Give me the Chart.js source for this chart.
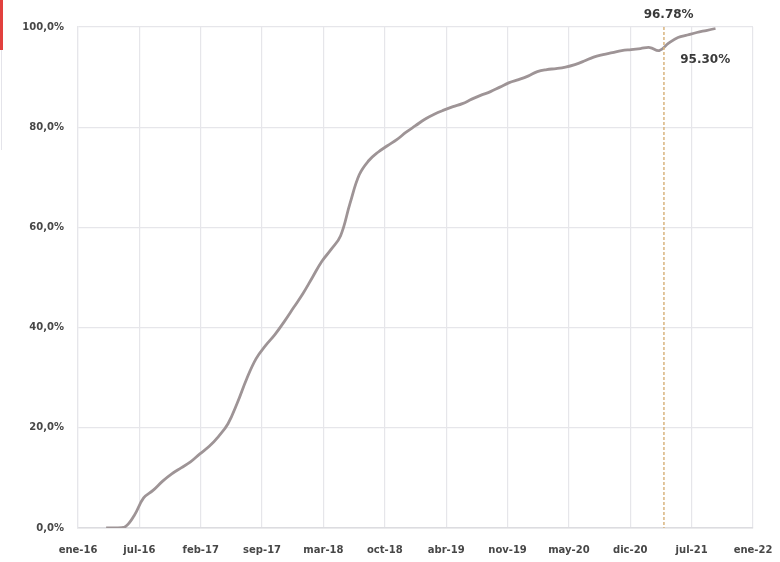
<!DOCTYPE html>
<html>
<head>
<meta charset="utf-8">
<script src="https://cdn.jsdelivr.net/npm/chart.js@4/dist/chart.umd.min.js"></script>
<style>
  html, body { margin: 0; padding: 0; background: #ffffff; }
  #wrap { position: relative; width: 780px; height: 562px; }
  #edge { position: absolute; left: 0; top: 0; width: 3px; height: 50px; background: #e2403e; }
  #edge2 { position: absolute; left: 1px; top: 50px; width: 1px; height: 100px; background: #e4e4ea; }
</style>
</head>
<body>
<div id="wrap">
  <canvas id="c" width="780" height="562"></canvas>
  <div id="edge"></div>
  <div id="edge2"></div>
</div>
<script>
// Monthly periods (year-month) and cumulative coverage in percent
const periods = [
  '2016-04','2016-05','2016-06','2016-07','2016-08','2016-09','2016-10','2016-11','2016-12',
  '2017-01','2017-02','2017-03','2017-04','2017-05','2017-06','2017-07','2017-08','2017-09','2017-10','2017-11','2017-12',
  '2018-01','2018-02','2018-03','2018-04','2018-05','2018-06','2018-07','2018-08','2018-09','2018-10','2018-11','2018-12',
  '2019-01','2019-02','2019-03','2019-04','2019-05','2019-06','2019-07','2019-08','2019-09','2019-10','2019-11','2019-12',
  '2020-01','2020-02','2020-03','2020-04','2020-05','2020-06','2020-07','2020-08','2020-09','2020-10','2020-11','2020-12',
  '2021-01','2021-02','2021-03','2021-04','2021-05','2021-06','2021-07','2021-08','2021-09'
];
const coverage = [
  0, 0, 0.2, 2.5, 6.0, 7.5, 9.3, 10.8, 12.0,
  13.2, 14.8, 16.3, 18.3, 20.8, 25.0, 29.8, 33.8, 36.4, 38.6, 41.2, 44.0,
  46.8, 50.0, 53.2, 55.6, 58.3, 64.7, 70.5, 73.3, 75.0, 76.3, 77.5, 79.0,
  80.3, 81.6, 82.6, 83.4, 84.1, 84.7, 85.6, 86.4, 87.1, 88.0, 88.9, 89.5,
  90.2, 91.1, 91.5, 91.7, 92.0, 92.5, 93.2, 94.0, 94.5, 94.9, 95.3, 95.5,
  95.7, 95.9, 95.30, 96.78, 97.9, 98.4, 98.9, 99.3, 99.7
];
// Axis labels
const xTickLabels = ['ene-16','jul-16','feb-17','sep-17','mar-18','oct-18','abr-19','nov-19','may-20','dic-20','jul-21','ene-22'];
const yTickValues = [0, 20, 40, 60, 80, 100];
// Periods whose values are printed on the chart
const labelledPeriods = ['2021-04', '2021-03'];
// Date of the dashed reference line
const markerDate = '2021-03-16';

const START_YEAR = 2016;
const SPAN_MONTHS = 72;
const FONT = '"DejaVu Sans", "Liberation Sans", Arial, sans-serif';

function monthIndex(str) {
  const [y, m, d] = str.split('-').map(Number);
  return (y - START_YEAR) * 12 + (m - 1) + (d ? (d - 1) / 30 : 0);
}

const points = periods.map((p, i) => ({ x: monthIndex(p), y: coverage[i] }));

function fmtPct(v, decimals, sep) {
  return v.toFixed(decimals).replace('.', sep) + '%';
}

const overlay = {
  id: 'overlay',
  afterDatasetsDraw(chart) {
    const { ctx, chartArea, scales } = chart;
    const xs = scales.x, ys = scales.y;
    // dashed reference line
    const mx = xs.getPixelForValue(monthIndex(markerDate));
    ctx.save();
    ctx.strokeStyle = '#d8b47e';
    ctx.lineWidth = 1.5;
    ctx.setLineDash([3, 2]);
    ctx.beginPath();
    ctx.moveTo(mx, chartArea.top);
    ctx.lineTo(mx, chartArea.bottom);
    ctx.stroke();
    ctx.restore();

    // value labels
    const offsets = { '2021-04': [0, -28], '2021-03': [46, 9] };
    ctx.save();
    ctx.font = 'bold 12px ' + FONT;
    ctx.fillStyle = '#3a3a3a';
    ctx.textAlign = 'center';
    ctx.textBaseline = 'middle';
    labelledPeriods.forEach(p => {
      const i = periods.indexOf(p);
      const px = xs.getPixelForValue(monthIndex(p));
      const py = ys.getPixelForValue(coverage[i]);
      const [dx, dy] = offsets[p];
      ctx.fillText(fmtPct(coverage[i], 2, '.'), px + dx, py + dy);
    });
    ctx.restore();
  }
};

new Chart(document.getElementById('c'), {
  type: 'line',
  data: {
    datasets: [{
      data: points,
      borderColor: 'rgb(158,148,150)',
      borderWidth: 2.8,
      pointRadius: 0,
      tension: 0.4,
      fill: false
    }]
  },
  options: {
    responsive: false,
    animation: false,
    devicePixelRatio: 1,
    layout: { padding: { left: 0, right: 27, top: 27, bottom: 0 } },
    plugins: { legend: { display: false }, tooltip: { enabled: false } },
    scales: {
      x: {
        type: 'linear',
        min: 0,
        max: SPAN_MONTHS,
        afterBuildTicks(scale) {
          scale.ticks = xTickLabels.map((_, i) => ({ value: i * SPAN_MONTHS / (xTickLabels.length - 1) }));
        },
        afterFit(scale) {
          scale.height = 34;
          scale.paddingLeft = 0;
          scale.paddingRight = 0;
        },
        ticks: {
          autoSkip: false,
          maxRotation: 0,
          padding: 16,
          color: '#474747',
          font: { family: FONT, size: 10, weight: 'bold' },
          callback: (v, i) => xTickLabels[i]
        },
        grid: { color: '#e6e6ea', lineWidth: 1.2, drawTicks: false },
        border: { color: '#dcdce0', width: 1.5 }
      },
      y: {
        min: 0,
        max: 100,
        afterBuildTicks(scale) {
          scale.ticks = yTickValues.map(v => ({ value: v }));
        },
        afterFit(scale) {
          scale.width = 78;
          scale.paddingTop = 0;
          scale.paddingBottom = 0;
        },
        ticks: {
          padding: 14,
          color: '#474747',
          font: { family: FONT, size: 10, weight: 'bold' },
          callback: v => fmtPct(v, 1, ',')
        },
        grid: { color: '#e6e6ea', lineWidth: 1.2, drawTicks: false },
        border: { color: '#e6e6ea', width: 1.2 }
      }
    }
  },
  plugins: [overlay]
});
</script>
</body>
</html>
